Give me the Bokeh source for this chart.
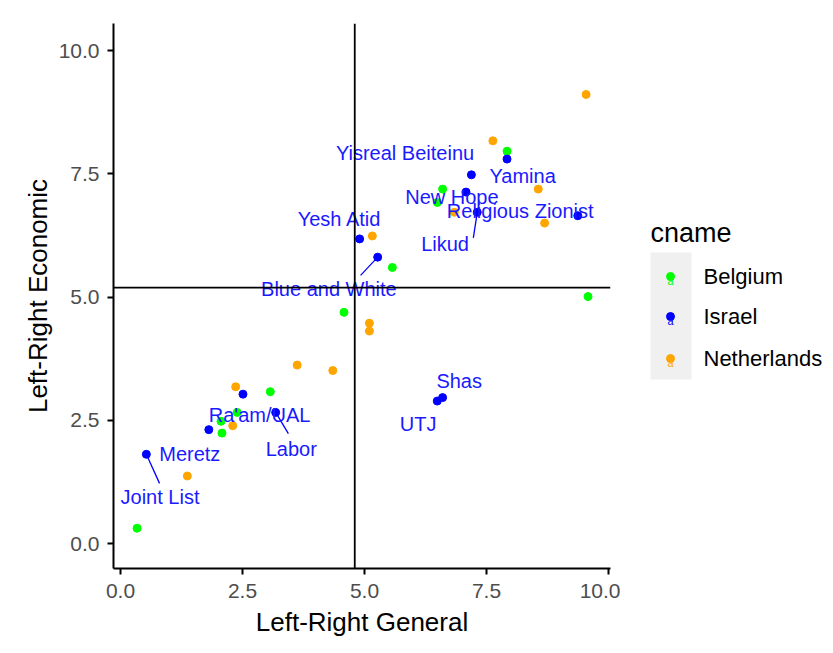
from bokeh.plotting import figure
from bokeh.models import Range1d, FixedTicker, NumeralTickFormatter, Span
from bokeh.layouts import row
from bokeh.embed import file_html
from bokeh.resources import INLINE
from bokeh.core.properties import value

FONT = "Liberation Sans"

# ---- data ----
belgium_x = [7.92, 6.60, 6.49, 5.57, 9.58, 4.58, 3.07, 2.39, 2.06, 2.08, 0.34]
belgium_y = [7.96, 7.19, 6.92, 5.60, 5.01, 4.69, 3.08, 2.66, 2.48, 2.24, 0.31]

netherlands_x = [7.63, 8.56, 6.84, 8.69, 5.16, 5.10, 5.10, 3.62, 4.35, 2.36, 2.30, 1.37, 9.54]
netherlands_y = [8.17, 7.19, 6.72, 6.50, 6.24, 4.47, 4.31, 3.62, 3.51, 3.18, 2.39, 1.37, 9.11]

israel_party = ["Joint List", "Meretz", "Ra'am/UAL", "Labor", "Yesh Atid", "Blue and White",
                "UTJ", "Shas", "New Hope", "Yisreal Beiteinu", "Likud", "Yamina", "Religious Zionist"]
israel_x = [0.53, 1.81, 2.51, 3.18, 4.90, 5.27, 6.49, 6.60, 7.08, 7.19, 7.31, 7.92, 9.37]
israel_y = [1.81, 2.31, 3.03, 2.66, 6.18, 5.81, 2.89, 2.96, 7.13, 7.48, 6.72, 7.80, 6.65]

# repelled label positions (data units)
label_x = [0.81, 1.42, 2.85, 3.50, 4.49, 4.27, 6.10, 6.94, 6.79, 5.83, 6.65, 8.24, 8.19]
label_y = [0.94, 1.81, 2.60, 1.92, 6.59, 5.17, 2.43, 3.29, 7.04, 7.92, 6.08, 7.45, 6.75]

# leader segments (party, end x, end y)
seg_party = ["Joint List", "Labor", "Blue and White", "Likud"]
seg_end_x = [0.80, 3.44, 4.92, 7.23]
seg_end_y = [1.22, 2.23, 5.44, 6.20]

vline_x = 4.80
hline_y = 5.19

ticks = [0, 2.5, 5, 7.5, 10]
countries = ["Belgium", "Israel", "Netherlands"]
colors = {"Belgium": "#00FF00", "Israel": "#0000FF", "Netherlands": "#FFA500"}

# ---- main plot ----
p = figure(frame_width=497, frame_height=545,
           min_border_left=113, min_border_right=10, min_border_top=23, min_border_bottom=85,
           x_range=Range1d(-0.143, 10.04), y_range=Range1d(-0.507, 10.55),
           output_backend="svg", toolbar_location=None)
p.outline_line_color = None
p.xgrid.visible = False
p.ygrid.visible = False
p.background_fill_color = "white"
p.border_fill_color = "white"

for ax in (p.xaxis[0], p.yaxis[0]):
    ax.ticker = FixedTicker(ticks=ticks)
    ax.formatter = NumeralTickFormatter(format="0.0")
    ax.minor_tick_line_color = None
    ax.major_tick_in = 0
    ax.major_tick_out = 6
    ax.axis_line_width = 2
    ax.axis_line_color = "black"
    ax.major_tick_line_width = 2
    ax.major_tick_line_color = "black"
    ax.major_label_text_font = FONT
    ax.major_label_text_font_size = "21px"
    ax.major_label_text_color = "#4D4D4D"
    ax.axis_label_text_font = FONT
    ax.axis_label_text_font_size = "26px"
    ax.axis_label_text_font_style = "normal"
    ax.axis_label_text_color = "black"

p.xaxis.axis_label = "Left-Right General"
p.yaxis.axis_label = "Left-Right Economic"
p.xaxis.major_label_standoff = 9
p.xaxis.axis_label_standoff = 6
p.yaxis.major_label_standoff = 8
p.yaxis.axis_label_standoff = 3

p.add_layout(Span(location=vline_x, dimension="height", line_color="black", line_width=1.8))
p.add_layout(Span(location=hline_y, dimension="width", line_color="black", line_width=1.8))

p.scatter(belgium_x, belgium_y, size=8, color=colors["Belgium"])
p.scatter(israel_x, israel_y, size=8, color=colors["Israel"])
p.scatter(netherlands_x, netherlands_y, size=8, color=colors["Netherlands"])

idx = [israel_party.index(s) for s in seg_party]
p.segment(x0=[israel_x[i] for i in idx], y0=[israel_y[i] for i in idx],
          x1=seg_end_x, y1=seg_end_y, line_color="#0000FF", line_width=1.3)

p.text(x=label_x, y=label_y, text=israel_party, text_color="#1A1AFF",
       text_font=value(FONT), text_font_size="20px",
       text_align="center", text_baseline="middle")

# ---- legend panel (coordinates in page pixels) ----
lg = figure(width=210, height=653, x_range=Range1d(620, 830), y_range=Range1d(568, 23),
            x_axis_type=None, y_axis_type=None, output_backend="svg", toolbar_location=None,
            min_border_left=0, min_border_right=0, min_border_top=23, min_border_bottom=85)
lg.outline_line_color = None
lg.xgrid.visible = False
lg.ygrid.visible = False
lg.text(x=[650], y=[232], text=["cname"], text_font=value(FONT), text_font_size="27px",
        text_color="black", text_align="left", text_baseline="middle")
lg.quad(left=[650], right=[691], top=[252], bottom=[379], fill_color="#F0F0F0", line_color=None)
key_y = [276, 316, 358]
lg.scatter(x=[670] * 3, y=key_y, size=8, color=[colors[c] for c in countries])
lg.text(x=[670] * 3, y=[k + 4 for k in key_y], text=["a"] * 3,
        text_color=[colors[c] for c in countries], text_font=value(FONT), text_font_size="11px",
        text_align="center", text_baseline="middle")
lg.text(x=[703] * 3, y=key_y, text=countries, text_font=value(FONT), text_font_size="22px",
        text_color="black", text_align="left", text_baseline="middle")

layout = row(p, lg)
open("out.html", "w").write(file_html(layout, INLINE))
